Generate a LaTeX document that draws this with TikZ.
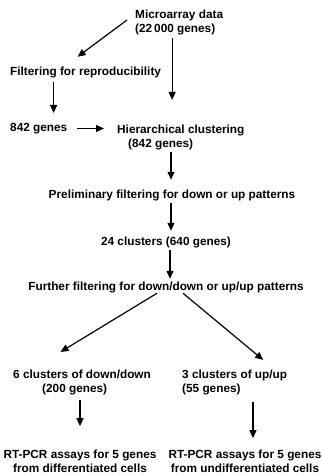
\documentclass[tikz,border=0pt]{standalone}
\usepackage{fontspec}
\setmainfont{Liberation Sans}
\usetikzlibrary{arrows.meta, positioning}

\begin{document}
\begin{tikzpicture}[x=1pt, y=-1pt,
  lbl/.style={font=\fontsize{11.8}{14.5}\selectfont\bfseries, inner sep=0pt, align=left},
  arrow/.style={-{Triangle[length=8pt, width=7pt]}, line width=1.2pt, draw=black}
]
  \useasboundingbox (0,0) rectangle (323,475);

  % Top: raw data and reproducibility filter
  \node[lbl, anchor=west] (micro) at (135,22.5) {Microarray data\\(22\,000 genes)};
  \node[lbl, anchor=west] (filt) at (10,72.5) {Filtering for reproducibility};
  \node[lbl, anchor=west] (g842) at (10,128.5) {842 genes};
  \node[lbl, anchor=west] (hier) at (117,137.5) {Hierarchical clustering\\\hspace*{11pt}(842 genes)};
  \draw[arrow] ([xshift=-8pt, yshift=2.5pt]micro.west) -- ([xshift=-8pt, yshift=10pt]filt.north);
  \draw[arrow, shorten <=3pt, shorten >=24.6pt] ([xshift=-7pt]micro.south) -- ([xshift=-7pt]micro.south |- hier.north);
  \draw[arrow, shorten <=4pt, shorten >=10pt] ([xshift=-32pt]filt.south) -- ([xshift=-32pt]filt.south |- g842.north);
  \draw[arrow, shorten <=10pt, shorten >=13pt] (g842.east) -- (g842.east -| hier.west);

  % Middle: pattern filtering
  \node[lbl] (prelim) at (172,195.5) {Preliminary filtering for down or up patterns};
  \node[lbl] (c24) at (166,242.5) {24 clusters (640 genes)};
  \node[lbl] (further) at (166,287) {Further filtering for down/down or up/up patterns};
  \draw[arrow, shorten <=1.6pt, shorten >=10pt] ([xshift=-1pt]prelim.north |- hier.south) -- ([xshift=-1pt]prelim.north);
  \draw[arrow, shorten <=2pt, shorten >=6pt] ([xshift=-1pt]prelim.south) -- ([xshift=-1pt]prelim.south |- c24.north);
  \draw[arrow, shorten <=2pt, shorten >=2.5pt] ([xshift=4pt]c24.south) -- ([xshift=4pt]c24.south |- further.north);

  % Bottom: two branches
  \node[lbl, anchor=west] (down) at (13,382.5) {6 clusters of down/down\\\hspace*{29pt}(200 genes)};
  \node[lbl, anchor=west] (up) at (182,382.5) {3 clusters of up/up\\(55 genes)};
  \node[lbl, align=center] (rtd) at (80,461.5) {RT-PCR assays for 5 genes\\from differentiated cells};
  \node[lbl, align=center] (rtu) at (245,461.5) {RT-PCR assays for 5 genes\\from undifferentiated cells};
  \draw[arrow] ([xshift=-9pt, yshift=-0.5pt]further.south) -- ([xshift=-21.5pt, yshift=17.6pt]down.north);
  \draw[arrow] ([xshift=17pt, yshift=-0.5pt]further.south) -- ([xshift=28.5pt, yshift=9.6pt]up.north);
  \draw[arrow, shorten <=4.6pt, shorten >=23.6pt] (rtd.north |- down.south) -- (rtd.north);
  \draw[arrow, shorten <=6.6pt, shorten >=11.6pt] ([xshift=8pt]rtu.north |- up.south) -- ([xshift=8pt]rtu.north);

\end{tikzpicture}
\end{document}
